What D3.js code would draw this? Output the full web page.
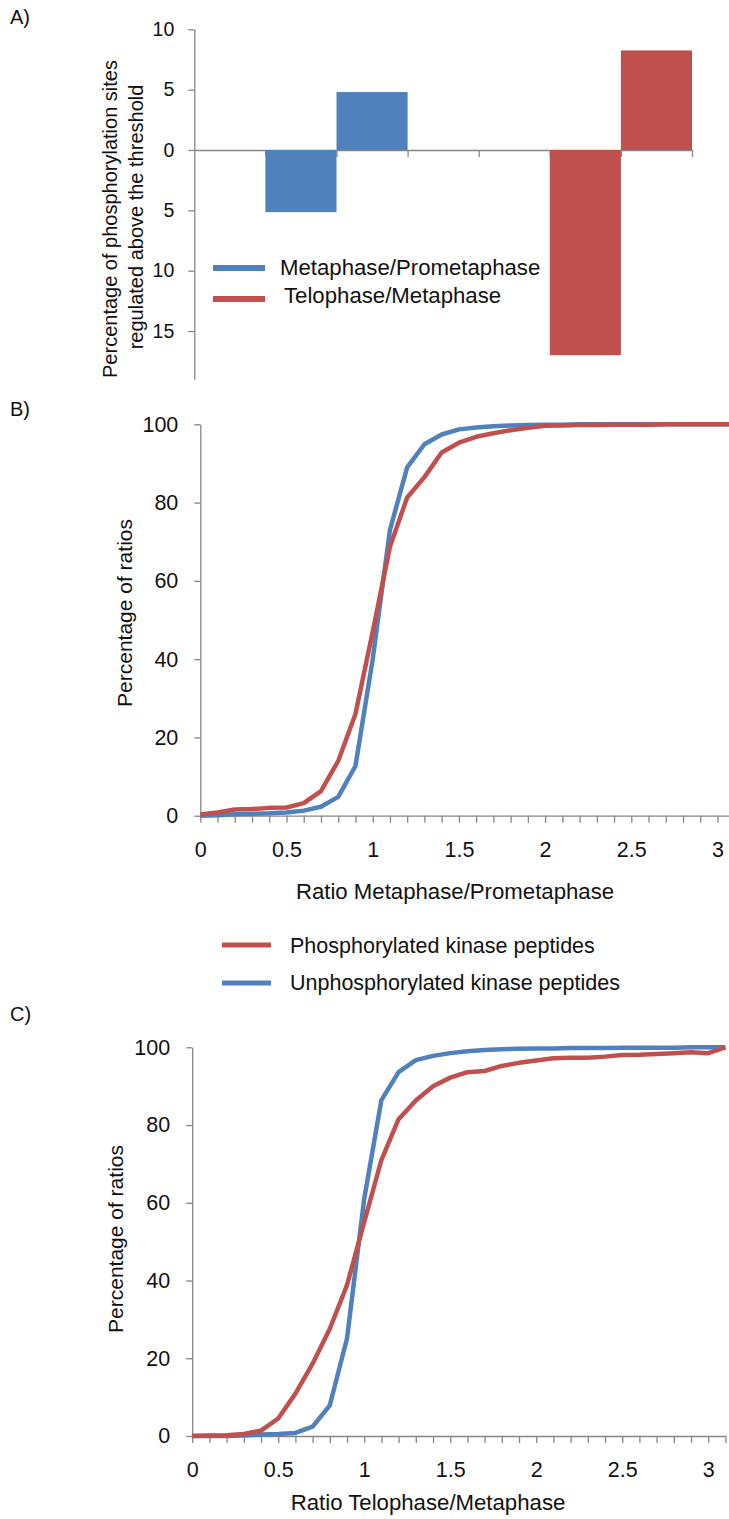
<!DOCTYPE html>
<html>
<head>
<meta charset="utf-8">
<script src="https://cdn.jsdelivr.net/npm/d3@7"></script>
<style>
  html, body { margin: 0; padding: 0; background: #fff; }
  svg { display: block; font-family: "Liberation Sans", Arial, sans-serif; }
</style>
</head>
<body>
<svg id="chart" width="729" height="1519"></svg>
<script>
// ---------- Panel A data ----------
const categoriesA = ["c1", "c2", "c3", "c4", "c5", "c6", "c7"];
const metaPrometaA = [null, -5.15, 4.8, null, null, null, null];
const teloMetaA = [null, null, null, null, null, -17.0, 8.25];
const yTicksA = [10, 5, 0, -5, -10, -15];
const legendA = ["Metaphase/Prometaphase", "Telophase/Metaphase"];

// ---------- Panels B & C data ----------
const ratioX = [0, 0.1, 0.2, 0.3, 0.4, 0.5, 0.6, 0.7, 0.8, 0.9, 1.0, 1.1, 1.2, 1.3, 1.4, 1.5,
                1.6, 1.7, 1.8, 1.9, 2.0, 2.1, 2.2, 2.3, 2.4, 2.5, 2.6, 2.7, 2.8, 2.9, 3.0, 3.1];
const phosB = [0.3, 0.8, 1.6, 1.7, 2.0, 2.1, 3.2, 6.3, 14, 26, 47, 68.7, 81.3, 86.5, 92.8, 95.3,
               96.8, 97.7, 98.5, 99.1, 99.6, 99.7, 99.8, 99.8, 99.9, 99.9, 99.9, 100, 100, 100, 100, 100];
const unphosB = [0, 0.1, 0.4, 0.5, 0.6, 0.8, 1.3, 2.3, 4.8, 12.7, 40, 73, 89, 94.9, 97.4, 98.7,
                 99.2, 99.5, 99.7, 99.8, 99.9, 99.9, 100, 100, 100, 100, 100, 100, 100, 100, 100, 100];
const phosC = [0, 0.1, 0.2, 0.5, 1.4, 4.5, 10.9, 18.6, 27.6, 38.8, 55, 71, 81.5, 86.3, 90, 92.2,
               93.6, 93.9, 95.2, 96, 96.6, 97.2, 97.3, 97.3, 97.6, 98.0, 98.1, 98.3, 98.5, 98.7, 98.5, 100];
const unphosC = [0, 0, 0, 0.1, 0.4, 0.5, 0.8, 2.4, 7.9, 25.1, 61, 86.4, 93.6, 96.7, 97.8, 98.5,
                 99, 99.3, 99.5, 99.6, 99.7, 99.7, 99.8, 99.8, 99.8, 99.9, 99.9, 99.9, 99.9, 100, 100, 100];
const yTicksBC = [0, 20, 40, 60, 80, 100];
const xLabelTicks = [0, 0.5, 1, 1.5, 2, 2.5, 3];
const legendBC = ["Phosphorylated kinase peptides", "Unphosphorylated kinase peptides"];

const BLUE = "#4F81BD", RED = "#C0504D", AXIS = "#868686", TXT = "#111";
const svg = d3.select("#chart");

function styleAxis(g) {
  g.selectAll("path").attr("stroke", AXIS).attr("stroke-width", 1.3);
  g.selectAll("line").attr("stroke", AXIS).attr("stroke-width", 1.3);
  g.selectAll("text").attr("fill", TXT).attr("font-family", "Liberation Sans, Arial, sans-serif");
}

// ================= Panel A =================
svg.append("text").attr("x", 10).attr("y", 24).attr("font-size", 20).attr("fill", TXT).text("A)");

const xA = d3.scaleBand().domain(categoriesA).range([194.3, 692]).padding(0);
const xAedge = d3.scaleLinear().domain([0, categoriesA.length]).range([194.3, 692]);
const yA = d3.scaleLinear().domain([-19, 10]).range([379.3, 29.3]);

const gAy = svg.append("g").attr("transform", `translate(${xA.range()[0]},0)`)
  .call(d3.axisLeft(yA).tickValues(yTicksA).tickSize(6).tickSizeOuter(0).tickPadding(14)
        .tickFormat(d => Math.abs(d)));
gAy.selectAll("text").attr("font-size", 19.5);
styleAxis(gAy);

const gAx = svg.append("g").attr("transform", `translate(0,${yA(0)})`)
  .call(d3.axisBottom(xAedge).tickValues(d3.range(1, categoriesA.length + 1)).tickSize(7)
        .tickSizeOuter(0).tickFormat(""));
styleAxis(gAx);

function barsA(vals, color) {
  svg.append("g").selectAll("rect")
    .data(categoriesA.map((c, i) => ({ c, v: vals[i] })).filter(d => d.v != null))
    .join("rect")
    .attr("x", d => xA(d.c))
    .attr("width", xA.bandwidth())
    .attr("y", d => yA(Math.max(0, d.v)))
    .attr("height", d => Math.abs(yA(d.v) - yA(0)))
    .attr("fill", color);
}
barsA(metaPrometaA, BLUE);
barsA(teloMetaA, RED);

// y title A (two lines)
const yTitleA = svg.append("g").attr("font-size", 20).attr("fill", TXT).attr("text-anchor", "middle");
yTitleA.append("text").attr("transform", "translate(117,219) rotate(-90)").text("Percentage of phosphorylation sites");
yTitleA.append("text").attr("transform", "translate(143,217) rotate(-90)").text("regulated above the threshold");

// legend A
[[BLUE, legendA[0], 268, 275, 280], [RED, legendA[1], 299, 303, 284]].forEach(([c, t, ly, ty, tx]) => {
  svg.append("line").attr("x1", 213).attr("x2", 265).attr("y1", ly).attr("y2", ly)
    .attr("stroke", c).attr("stroke-width", 6);
  svg.append("text").attr("x", tx).attr("y", ty).attr("font-size", 22.2).attr("fill", TXT).text(t);
});

// ================= Line panels =================
function linePanel(opt) {
  const x = d3.scaleLinear().domain([0, 3.1]).range([opt.x0, opt.x0 + 3.1 * opt.pxPerUnit]);
  const y = d3.scaleLinear().domain([0, 100]).range([opt.y0, opt.y100]);

  svg.append("text").attr("x", 10).attr("y", opt.labelY).attr("font-size", 20).attr("fill", TXT).text(opt.label);

  const gy = svg.append("g").attr("transform", `translate(${opt.x0},0)`)
    .call(d3.axisLeft(y).tickValues(yTicksBC).tickSize(6).tickSizeOuter(0).tickPadding(16));
  gy.selectAll("text").attr("font-size", 21.5);
  styleAxis(gy);

  const gx = svg.append("g").attr("transform", `translate(0,${opt.y0})`)
    .call(d3.axisBottom(x).tickValues(ratioX).tickSize(7).tickSizeOuter(0).tickPadding(19)
          .tickFormat(d => xLabelTicks.some(t => Math.abs(t - d) < 1e-9) ? d3.format("~g")(d) : ""));
  gx.selectAll("text").attr("font-size", 21.5);
  styleAxis(gx);

  const line = d3.line().x((d, i) => x(ratioX[i])).y(d => y(d)).curve(d3.curveLinear);
  svg.append("path").datum(opt.unphos).attr("d", line).attr("fill", "none")
    .attr("stroke", BLUE).attr("stroke-width", 4.5).attr("stroke-linejoin", "round");
  svg.append("path").datum(opt.phos).attr("d", line).attr("fill", "none")
    .attr("stroke", RED).attr("stroke-width", 4.5).attr("stroke-linejoin", "round");

  svg.append("text").attr("transform", `translate(${opt.yTitleX},${opt.yTitleY}) rotate(-90)`)
    .attr("text-anchor", "middle").attr("font-size", 21).attr("fill", TXT).text("Percentage of ratios");
  svg.append("text").attr("x", opt.xTitleX).attr("y", opt.xTitleY).attr("text-anchor", "middle")
    .attr("font-size", 22.2).attr("fill", TXT).text(opt.xTitle);
}

linePanel({ label: "B)", labelY: 416, x0: 200.3, pxPerUnit: 172.4, y0: 815.7, y100: 424.3,
  phos: phosB, unphos: unphosB, yTitleX: 132, yTitleY: 613,
  xTitle: "Ratio Metaphase/Prometaphase", xTitleX: 455, xTitleY: 899 });

// legend B/C
[[RED, legendBC[0], 945, 953], [BLUE, legendBC[1], 983, 990]].forEach(([c, t, ly, ty]) => {
  svg.append("line").attr("x1", 222).attr("x2", 271).attr("y1", ly).attr("y2", ly)
    .attr("stroke", c).attr("stroke-width", 5);
  svg.append("text").attr("x", 290).attr("y", ty).attr("font-size", 21.5).attr("fill", TXT).text(t);
});

linePanel({ label: "C)", labelY: 1021, x0: 192.2, pxPerUnit: 172.0, y0: 1436, y100: 1047.3,
  phos: phosC, unphos: unphosC, yTitleX: 123, yTitleY: 1239,
  xTitle: "Ratio Telophase/Metaphase", xTitleX: 428, xTitleY: 1510 });
</script>
</body>
</html>
